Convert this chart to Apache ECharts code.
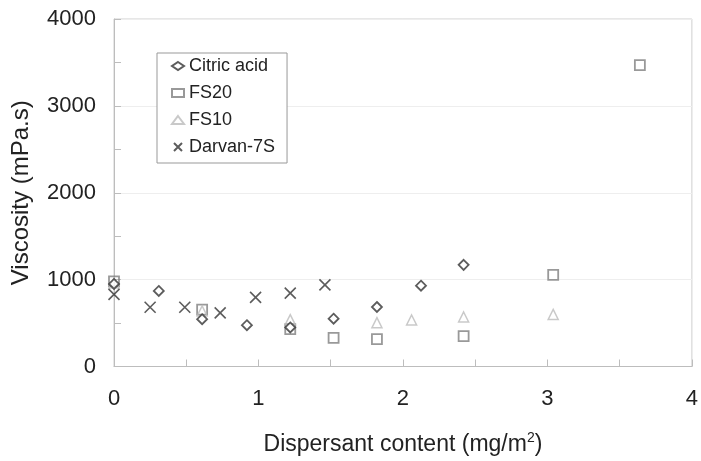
<!DOCTYPE html>
<html>
<head>
<meta charset="utf-8">
<script src="https://cdn.jsdelivr.net/npm/echarts@6/dist/echarts.min.js"></script>
<style>html,body{margin:0;padding:0;background:#fff;overflow:hidden;}#c{width:701px;height:461px;}</style>
</head>
<body>
<div id="c"></div>
<script>
const citricX = [0, 0.31, 0.61, 0.92, 1.22, 1.52, 1.82, 2.125, 2.42];
const citricY = [950, 870, 545, 475, 450, 550, 685, 930, 1170];
const fs20X = [0, 0.61, 1.22, 1.52, 1.82, 2.42, 3.04, 3.64];
const fs20Y = [980, 655, 430, 330, 315, 350, 1055, 3470];
const fs10X = [0, 0.61, 1.22, 1.82, 2.06, 2.42, 3.04];
const fs10Y = [960, 640, 540, 505, 535, 570, 600];
const darvanX = [0, 0.25, 0.49, 0.735, 0.98, 1.22, 1.46];
const darvanY = [830, 682, 682, 617, 795, 845, 940];
const seriesNames = ['Citric acid', 'FS20', 'FS10', 'Darvan-7S'];
const xTicks = [0, 1, 2, 3, 4];
const yTicks = [0, 1000, 2000, 3000, 4000];

const pair = (xs, ys) => xs.map((x, i) => [x, ys[i]]);
const font = 'Liberation Sans, Arial, sans-serif';
const chart = echarts.init(document.getElementById('c'));
const xPath = 'path://M0,0L10,10M10,0L0,10';

chart.setOption({
  animation: false,
  backgroundColor: '#fff',
  grid: { left: 114, right: 6, top: 19, bottom: 90, show: true, borderColor: '#cfcfcf', borderWidth: 1 },
  legend: {
    orient: 'vertical', left: 157, top: 53,
    padding: [4, 12, 7, 14],
    borderColor: '#999', borderWidth: 1, backgroundColor: '#fff',
    itemWidth: 12, itemHeight: 8, itemGap: 9,
    textStyle: { fontFamily: font, fontSize: 18, color: '#222', lineHeight: 18 },
    data: seriesNames
  },
  xAxis: {
    type: 'value', min: 0, max: 4, interval: 1,
    name: 'Dispersant content (mg/m{sup|2})',
    nameLocation: 'middle', nameGap: 65,
    nameTextStyle: { fontFamily: font, fontSize: 23, color: '#222',
      rich: { sup: { fontFamily: font, fontSize: 14, color: '#222', verticalAlign: 'top', padding: [0, 0, 12, 0] } } },
    axisLine: { lineStyle: { color: '#bdbdbd' } },
    axisTick: { show: true, inside: true, length: 7, lineStyle: { color: '#bdbdbd' } },
    minorTick: { show: true, splitNumber: 2, length: 7, lineStyle: { color: '#bdbdbd' } },
    axisLabel: { margin: 21, fontFamily: font, fontSize: 22, color: '#222',
      formatter: v => xTicks.includes(v) ? String(v) : '' },
    splitLine: { show: false }
  },
  yAxis: {
    type: 'value', min: 0, max: 4000, interval: 1000,
    name: 'Viscosity (mPa.s)',
    nameLocation: 'middle', nameGap: 81,
    nameTextStyle: { fontFamily: font, fontSize: 24, color: '#222' },
    axisLine: { show: true, lineStyle: { color: '#bdbdbd' } },
    axisTick: { show: true, inside: true, length: 7, lineStyle: { color: '#bdbdbd' } },
    minorTick: { show: true, splitNumber: 2, length: 7, lineStyle: { color: '#bdbdbd' } },
    axisLabel: { margin: 18, fontFamily: font, fontSize: 22, color: '#222',
      formatter: v => yTicks.includes(v) ? String(v) : '' },
    splitLine: { show: true, lineStyle: { color: '#eeeeee' } }
  },
  series: [
    { name: seriesNames[0], type: 'scatter', data: pair(citricX, citricY), symbol: 'diamond', symbolSize: [10, 10],
      itemStyle: { color: '#fff', borderColor: '#333', borderWidth: 1.8 }, z: 5 },
    { name: seriesNames[1], type: 'scatter', data: pair(fs20X, fs20Y), symbol: 'rect', symbolSize: 10,
      itemStyle: { color: 'rgba(255,255,255,0)', borderColor: '#808080', borderWidth: 1.8 }, z: 3 },
    { name: seriesNames[2], type: 'scatter', data: pair(fs10X, fs10Y), symbol: 'triangle', symbolSize: 10,
      itemStyle: { color: 'rgba(255,255,255,0)', borderColor: '#bbbbbb', borderWidth: 1.5 }, z: 4 },
    { name: seriesNames[3], type: 'scatter', data: pair(darvanX, darvanY), symbol: xPath, symbolSize: 11,
      itemStyle: { color: 'rgba(0,0,0,0)', borderColor: '#333', borderWidth: 1.6 }, z: 6 }
  ]
});
</script>
</body>
</html>
